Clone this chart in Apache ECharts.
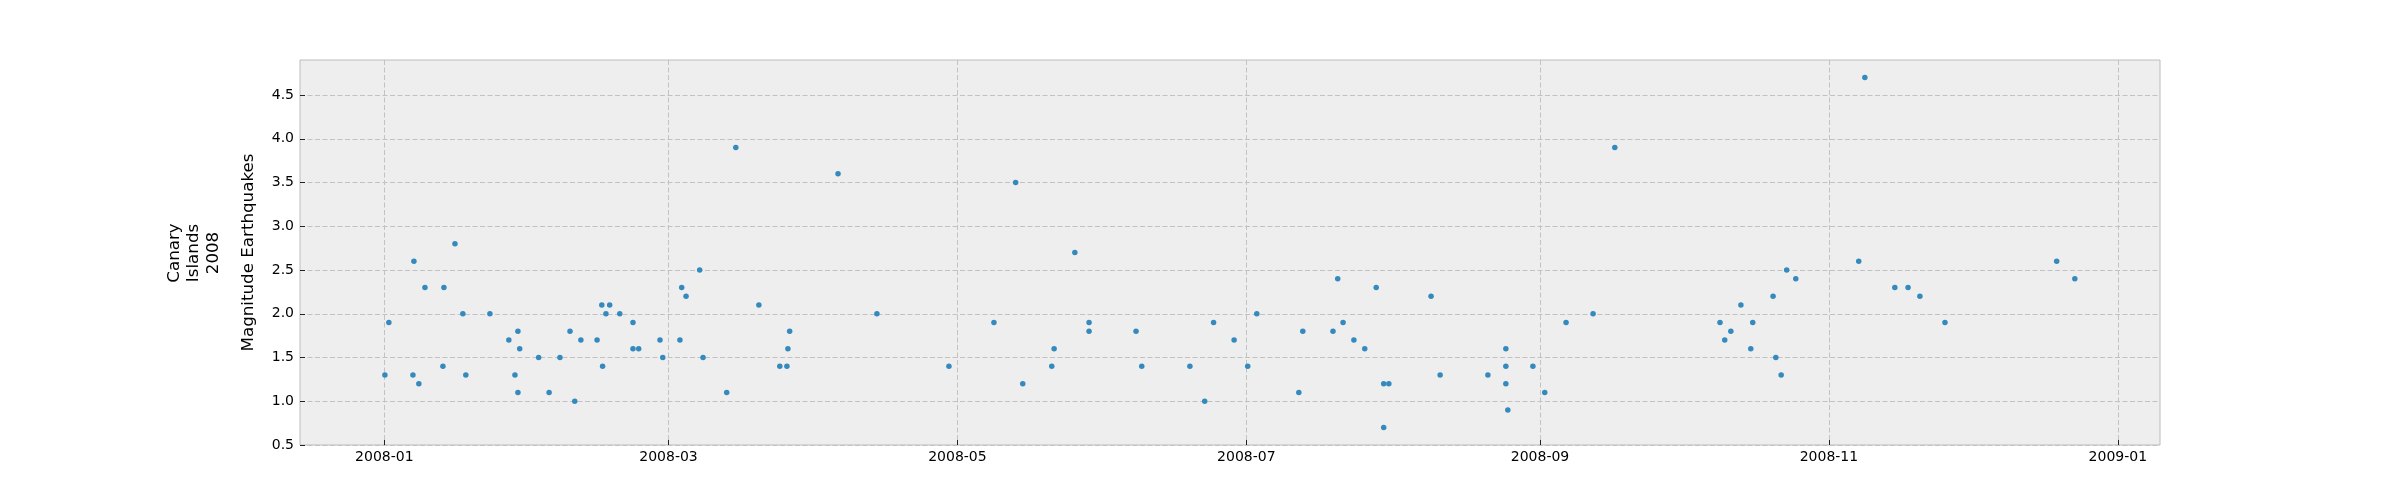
<!DOCTYPE html>
<html>
<head>
<meta charset="utf-8">
<script src="https://cdn.jsdelivr.net/npm/echarts@6/dist/echarts.min.js"></script>
<style>
html,body{margin:0;padding:0;background:#fff;}
#chart{width:2400px;height:500px;}
</style>
</head>
<body>
<div id="chart"></div>
<script>
// Event times (local) and magnitudes
var dates = [
  '2008-01-01 03:00','2008-01-01 23:00','2008-01-07 01:00','2008-01-07 06:00','2008-01-08 07:00',
  '2008-01-09 14:00','2008-01-13 09:00','2008-01-13 14:00','2008-01-15 22:00','2008-01-17 14:00',
  '2008-01-18 05:00','2008-01-23 07:00','2008-01-27 07:00','2008-01-28 14:00','2008-01-29 05:00',
  '2008-01-29 05:00','2008-01-29 14:00','2008-02-02 14:00','2008-02-04 19:00','2008-02-07 02:00',
  '2008-02-09 05:00','2008-02-10 05:00','2008-02-11 12:00','2008-02-14 22:00','2008-02-15 22:00',
  '2008-02-16 02:00','2008-02-16 19:00','2008-02-17 14:00','2008-02-19 17:00','2008-02-22 12:00',
  '2008-02-22 12:00','2008-02-23 17:00','2008-02-28 05:00','2008-02-28 19:00','2008-03-03 10:00',
  '2008-03-03 19:00','2008-03-04 17:00','2008-03-07 14:00','2008-03-08 07:00','2008-03-13 07:00',
  '2008-03-15 05:00','2008-03-20 02:00','2008-03-24 12:00','2008-03-26 00:00','2008-03-26 05:00',
  '2008-03-26 14:00','2008-04-05 19:00','2008-04-14 00:00','2008-04-29 05:00','2008-05-08 17:00',
  '2008-05-13 07:00','2008-05-14 19:00','2008-05-20 22:00','2008-05-21 10:00','2008-05-25 19:00',
  '2008-05-28 19:00','2008-05-28 19:00','2008-06-07 17:00','2008-06-08 22:00','2008-06-19 02:00',
  '2008-06-22 05:00','2008-06-24 02:00','2008-06-28 10:00','2008-07-01 07:00','2008-07-03 05:00',
  '2008-07-12 02:00','2008-07-12 22:00','2008-07-19 07:00','2008-07-20 07:00','2008-07-21 10:00',
  '2008-07-23 17:00','2008-07-26 00:00','2008-07-28 10:00','2008-07-30 00:00','2008-07-30 00:00',
  '2008-07-31 02:00','2008-08-09 00:00','2008-08-10 22:00','2008-08-21 00:00','2008-08-24 19:00',
  '2008-08-24 19:00','2008-08-24 19:00','2008-08-25 05:00','2008-08-30 12:00','2008-09-02 00:00',
  '2008-09-06 12:00','2008-09-12 05:00','2008-09-16 19:00','2008-10-09 00:00','2008-10-10 00:00',
  '2008-10-11 07:00','2008-10-13 10:00','2008-10-15 12:00','2008-10-15 22:00','2008-10-20 05:00',
  '2008-10-20 19:00','2008-10-21 22:00','2008-10-23 02:00','2008-10-25 00:00','2008-11-07 07:00',
  '2008-11-08 14:00','2008-11-14 22:00','2008-11-17 17:00','2008-11-20 05:00','2008-11-25 12:00',
  '2008-12-19 02:00','2008-12-22 22:00'
];
var magnitudes = [
  1.3,1.9,1.3,2.6,1.2,
  2.3,1.4,2.3,2.8,2.0,
  1.3,2.0,1.7,1.3,1.8,
  1.1,1.6,1.5,1.1,1.5,
  1.8,1.0,1.7,1.7,2.1,
  1.4,2.0,2.1,2.0,1.9,
  1.6,1.6,1.7,1.5,1.7,
  2.3,2.2,2.5,1.5,1.1,
  3.9,2.1,1.4,1.4,1.6,
  1.8,3.6,2.0,1.4,1.9,
  3.5,1.2,1.4,1.6,2.7,
  1.9,1.8,1.8,1.4,1.4,
  1.0,1.9,1.7,1.4,2.0,
  1.1,1.8,1.8,2.4,1.9,
  1.7,1.6,2.3,1.2,0.7,
  1.2,2.2,1.3,1.3,1.6,
  1.4,1.2,0.9,1.4,1.1,
  1.9,2.0,3.9,1.9,1.7,
  1.8,2.1,1.6,1.9,2.2,
  1.5,1.3,2.5,2.4,2.6,
  4.7,2.3,2.3,2.2,1.9,
  2.6,2.4
];
var xTickLabels = ['2008-01','2008-03','2008-05','2008-07','2008-09','2008-11','2009-01'];
var yTicks = [0.5,1.0,1.5,2.0,2.5,3.0,3.5,4.0,4.5];
var yLabel = 'Magnitude Earthquakes';
var titleLabel = 'Canary\nIslands\n2008';

function toMs(s) {
  // 'YYYY-MM-DD HH:mm' or 'YYYY-MM' -> local timestamp
  var p = s.split(/[- :]/).map(Number);
  return new Date(p[0], p[1] - 1, p[2] || 1, p[3] || 0, p[4] || 0).getTime();
}
var DAY = 86400000;
var seriesData = dates.map(function (d, i) { return [toMs(d), magnitudes[i]]; });
var xTickValues = xTickLabels.map(toMs);
var xMin = toMs('2008-01') - 17.8 * DAY;
var xMax = toMs('2009-01') + 8.9 * DAY;

function fmtMonth(v) {
  var idx = xTickValues.indexOf(v);
  if (idx >= 0) return xTickLabels[idx];
  var d = new Date(v);
  var m = d.getMonth() + 1;
  return d.getFullYear() + '-' + (m < 10 ? '0' + m : m);
}

var FONT = 'DejaVu Sans';
var chart = echarts.init(document.getElementById('chart'), null, {renderer: 'canvas'});
chart.setOption({
  animation: false,
  backgroundColor: '#ffffff',
  grid: {
    left: 300, right: 240, top: 60, bottom: 55,
    show: true, backgroundColor: '#eeeeee', borderColor: '#bcbcbc', borderWidth: 1
  },
  xAxis: {
    type: 'value',
    min: xMin, max: xMax,
    axisLine: {show: false},
    axisTick: {show: true, inside: true, length: 5, customValues: xTickValues,
               lineStyle: {color: '#222', width: 1}},
    axisLabel: {customValues: xTickValues, formatter: fmtMonth, margin: 5,
                fontFamily: FONT, fontSize: 14, color: '#000'},
    splitLine: {show: true, lineStyle: {color: '#c2c2c2', type: [5, 2.5], width: 1}}
  },
  yAxis: {
    type: 'value',
    min: 0.5, max: 4.9,
    name: yLabel,
    nameLocation: 'middle',
    nameRotate: 90,
    nameGap: 43,
    nameTextStyle: {fontFamily: FONT, fontSize: 16.7, color: '#000'},
    axisLine: {show: false},
    axisTick: {show: true, inside: true, length: 5, customValues: yTicks,
               lineStyle: {color: '#222', width: 1}},
    axisLabel: {customValues: yTicks, margin: 6,
                formatter: function (v) { return v.toFixed(1); },
                fontFamily: FONT, fontSize: 14, color: '#000'},
    splitLine: {show: true, lineStyle: {color: '#c2c2c2', type: [5, 2.5], width: 1}}
  },
  graphic: [{
    type: 'text',
    x: 194, y: 253,
    rotation: Math.PI / 2,
    style: {
      text: titleLabel,
      align: 'center', verticalAlign: 'middle',
      textAlign: 'center', textVerticalAlign: 'middle',
      font: '16.7px "DejaVu Sans"',
      lineHeight: 19.3,
      fill: '#000'
    }
  }],
  series: [{
    type: 'scatter',
    data: seriesData,
    symbol: 'circle',
    symbolSize: 5.5,
    itemStyle: {color: '#348ABD', opacity: 1},
    silent: true
  }]
});
</script>
</body>
</html>
